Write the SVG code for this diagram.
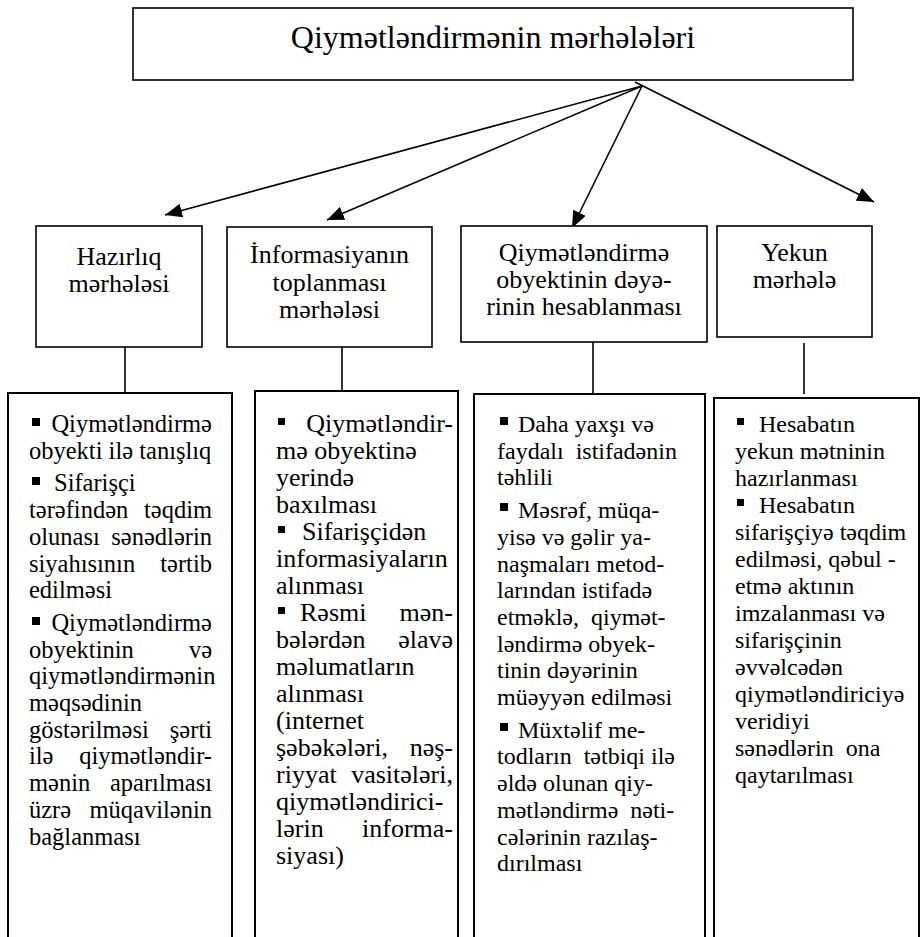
<svg xmlns="http://www.w3.org/2000/svg" width="922" height="937" viewBox="0 0 922 937">
<defs>
<style>
.box{fill:#fff;stroke:#000;stroke-width:1.6}
.col{fill:#fff;stroke:#000;stroke-width:2}
text{font-family:Liberation Serif,serif;fill:#000}
.title{font-size:32px;text-anchor:middle}
.h{font-size:26px;text-anchor:middle}
.a{font-size:24.5px}
.bb{font-size:26px}
.b{font-size:24px}
.e{text-anchor:end}
.cn{stroke:#000;stroke-width:1.6;fill:none}
</style>
<marker id="ah" markerUnits="userSpaceOnUse" markerWidth="18" markerHeight="14" refX="17" refY="7" orient="auto">
<path d="M0,0 L17,7 L0,14 z" fill="#000"/>
</marker>
</defs>
<rect width="922" height="937" fill="#fff"/>

<g id="connectors">
<line class="cn" x1="642" y1="86" x2="165" y2="215" marker-end="url(#ah)"/>
<line class="cn" x1="642" y1="86" x2="327" y2="220" marker-end="url(#ah)"/>
<line class="cn" x1="642" y1="86" x2="572" y2="228" marker-end="url(#ah)"/>
<line class="cn" x1="635" y1="82" x2="874" y2="202" marker-end="url(#ah)"/>
<line class="cn" x1="125" y1="340" x2="125" y2="393"/>
<line class="cn" x1="342" y1="347" x2="342" y2="393"/>
<line class="cn" x1="593" y1="338" x2="593" y2="393"/>
<line class="cn" x1="804" y1="343" x2="804" y2="394"/>
</g>

<g id="title">
<rect class="box" x="133" y="8" width="720" height="72"/>
<text class="title" x="493" y="48">Qiymətləndirmənin mərhələləri</text>
</g>

<g id="stage-hazirliq">
<rect class="box" x="36" y="226" width="166" height="121"/>
<text class="h" x="119" y="265">Hazırlıq</text>
<text class="h" x="119" y="292">mərhələsi</text>
</g>

<g id="stage-informasiya">
<rect class="box" x="227" y="227" width="205" height="120"/>
<text class="h" x="329.5" y="263">İnformasiyanın</text>
<text class="h" x="329.5" y="290.5">toplanması</text>
<text class="h" x="329.5" y="318">mərhələsi</text>
</g>

<g id="stage-deyer">
<rect class="box" x="461" y="226" width="246" height="116"/>
<text class="h" x="584" y="261">Qiymətləndirmə</text>
<text class="h" x="584" y="288">obyektinin dəyə-</text>
<text class="h" x="584" y="315">rinin hesablanması</text>
</g>

<g id="stage-yekun">
<rect class="box" x="717" y="226" width="155" height="111"/>
<text class="h" x="794.5" y="261">Yekun</text>
<text class="h" x="794.5" y="288">mərhələ</text>
</g>

<g id="list-hazirliq">
<path class="col" d="M8,945 V393 H232 V945"/>
<rect x="32" y="418" width="8" height="8"/>
<text class="a e" x="212" y="432">Qiymətləndirmə</text>
<text class="a" x="29" y="458.7">obyekti ilə tanışlıq</text>
<rect x="32" y="477" width="8" height="8"/>
<text class="a" x="54" y="491.4">Sifarişçi</text>
<text class="a" x="29" y="518.1">tərəfindən</text><text class="a e" x="212" y="518.1">təqdim</text>
<text class="a" x="29" y="544.8">olunası</text><text class="a e" x="212" y="544.8">sənədlərin</text>
<text class="a" x="29" y="571.5">siyahısının</text><text class="a e" x="212" y="571.5">tərtib</text>
<text class="a" x="29" y="598.2">edilməsi</text>
<rect x="32" y="617" width="8" height="8"/>
<text class="a e" x="212" y="630.9">Qiymətləndirmə</text>
<text class="a" x="29" y="657.6">obyektinin</text><text class="a e" x="212" y="657.6">və</text>
<text class="a" x="29" y="684.3">qiymətləndirmənin</text>
<text class="a" x="29" y="711">məqsədinin</text>
<text class="a" x="29" y="737.7">göstərilməsi</text><text class="a e" x="212" y="737.7">şərti</text>
<text class="a" x="29" y="764.4">ilə</text><text class="a e" x="212" y="764.4">qiymətləndir-</text>
<text class="a" x="29" y="791.1">mənin</text><text class="a e" x="212" y="791.1">aparılması</text>
<text class="a" x="29" y="817.8">üzrə</text><text class="a e" x="212" y="817.8">müqavilənin</text>
<text class="a" x="29" y="844.5">bağlanması</text>
</g>

<g id="list-informasiya">
<path class="col" d="M255,945 V391 H458 V945"/>
<rect x="278" y="418" width="7" height="7"/>
<text class="bb e" x="453" y="432">Qiymətləndir-</text>
<text class="bb" x="276" y="459">mə obyektinə</text>
<text class="bb" x="276" y="486">yerində</text>
<text class="bb" x="276" y="513">baxılması</text>
<rect x="278" y="526" width="7" height="7"/>
<text class="bb" x="302" y="540">Sifarişçidən</text>
<text class="bb" x="276" y="567">informasiyaların</text>
<text class="bb" x="276" y="594">alınması</text>
<rect x="278" y="607" width="7" height="7"/>
<text class="bb" x="300" y="621">Rəsmi</text><text class="bb e" x="453" y="621">mən-</text>
<text class="bb" x="276" y="648">bələrdən</text><text class="bb e" x="453" y="648">əlavə</text>
<text class="bb" x="276" y="675">məlumatların</text>
<text class="bb" x="276" y="702">alınması</text>
<text class="bb" x="276" y="729">(internet</text>
<text class="bb" x="276" y="756">şəbəkələri,</text><text class="bb e" x="453" y="756">nəş-</text>
<text class="bb" x="276" y="783">riyyat</text><text class="bb e" x="453" y="783">vasitələri,</text>
<text class="bb" x="276" y="810">qiymətləndirici-</text>
<text class="bb" x="276" y="837">lərin</text><text class="bb e" x="453" y="837">informa-</text>
<text class="bb" x="276" y="864">siyası)</text>
</g>

<g id="list-deyer">
<path class="col" d="M474,945 V394 H705 V945"/>
<rect x="500" y="417" width="8" height="8"/>
<text class="b" x="518" y="432">Daha yaxşı və</text>
<text class="b" x="497" y="458.7">faydalı&#160; istifadənin</text>
<text class="b" x="497" y="485.4">təhlili</text>
<rect x="500" y="503" width="8" height="8"/>
<text class="b" x="518" y="518.1">Məsrəf, müqa-</text>
<text class="b" x="497" y="544.8">yisə və gəlir ya-</text>
<text class="b" x="497" y="571.5">naşmaları metod-</text>
<text class="b" x="497" y="598.2">larından istifadə</text>
<text class="b" x="497" y="624.9">etməklə,&#160; qiymət-</text>
<text class="b" x="497" y="651.6">ləndirmə obyek-</text>
<text class="b" x="497" y="678.3">tinin dəyərinin</text>
<text class="b" x="497" y="705">müəyyən edilməsi</text>
<rect x="500" y="723" width="8" height="8"/>
<text class="b" x="518" y="737.7">Müxtəlif me-</text>
<text class="b" x="497" y="764.4">todların&#160; tətbiqi ilə</text>
<text class="b" x="497" y="791.1">əldə olunan qiy-</text>
<text class="b" x="497" y="817.8">mətləndirmə&#160; nəti-</text>
<text class="b" x="497" y="844.5">cələrinin razılaş-</text>
<text class="b" x="497" y="871.2">dırılması</text>
</g>

<g id="list-yekun">
<path class="col" d="M714,945 V398 H919 V945"/>
<rect x="737" y="418" width="7" height="7"/>
<text class="b" x="759" y="432">Hesabatın</text>
<text class="b" x="735" y="459">yekun mətninin</text>
<text class="b" x="735" y="486">hazırlanması</text>
<rect x="737" y="499" width="7" height="7"/>
<text class="b" x="759" y="513">Hesabatın</text>
<text class="b" x="735" y="540">sifarişçiyə təqdim</text>
<text class="b" x="735" y="567">edilməsi, qəbul -</text>
<text class="b" x="735" y="594">etmə aktının</text>
<text class="b" x="735" y="621">imzalanması və</text>
<text class="b" x="735" y="648">sifarişçinin</text>
<text class="b" x="735" y="675">əvvəlcədən</text>
<text class="b" x="735" y="702">qiymətləndiriciyə</text>
<text class="b" x="735" y="729">veridiyi</text>
<text class="b" x="735" y="756">sənədlərin&#160; ona</text>
<text class="b" x="735" y="783">qaytarılması</text>
</g>
</svg>
